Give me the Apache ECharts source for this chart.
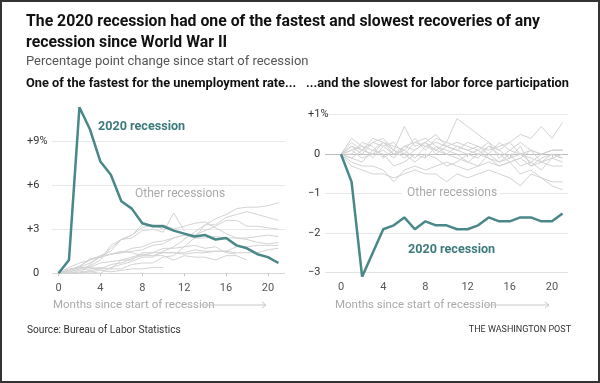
<!DOCTYPE html>
<html><head><meta charset="utf-8">
<script src="https://cdn.jsdelivr.net/npm/echarts@6/dist/echarts.min.js"></script>
<style>html,body{margin:0;padding:0;background:#fff}#c{width:600px;height:383px}</style>
</head><body><div id="c"></div>
<script>
// ---- Data (percentage point change since start of recession) ----
const months = [0,1,2,3,4,5,6,7,8,9,10,11,12,13,14,15,16,17,18,19,20,21];
const xTicks = [0,4,8,12,16,20];

// Unemployment rate, 2020 recession
const unemp2020 = [0,0.9,11.3,9.8,7.6,6.7,4.9,4.4,3.4,3.2,3.2,2.9,2.7,2.5,2.6,2.3,2.4,1.9,1.7,1.3,1.1,0.7];
// Unemployment rate, other recessions
const unemp1948 = [0,0.2,0.5,0.9,1.2,1.5,2.3,2.4,2.9,3.0,2.8,4.1,2.9];
const unemp1953 = [0,0.1,0.3,0.5,0.9,1.9,2.3,2.6,3.1,3.3,3.3,3.0,3.2,3.4,3.5,3.1,2.7,2.4,2.3,2.1,2.0,2.1];
const unemp1957 = [0,0.3,0.4,1.0,1.1,1.7,2.3,2.6,3.3,3.3,3.0];
const unemp1960 = [0,0.0,0.2,0.3,0.4,0.3,0.9,0.9,1.4,1.4,1.7,1.7,1.8,1.9,1.7,1.8,1.4,1.3];
const unemp1969 = [0,0.4,0.7,0.9,1.1,1.3,1.4,1.5,1.6,1.9,2.0,2.4,2.6,2.4,2.4,2.5,2.4,2.4,2.4,2.5,2.6,2.5];
const unemp1973 = [0,0.1,0.3,0.4,0.3,0.3,0.3,0.6,0.7,0.7,1.1,1.2,1.8,2.4,3.3,3.3,3.8,4.0,4.2,4.0,3.8,3.6];
const unemp1980 = [0,0.0,0.0,0.6,1.2,1.3,1.5,1.4,1.2,1.2,1.2,0.9,1.2,1.1,1.1,0.9,1.2,1.2,0.9];
const unemp1981 = [0,0.2,0.4,0.7,1.1,1.3,1.4,1.7,1.8,2.1,2.2,2.4,2.6,2.6,2.9,3.2,3.6,3.6,3.2,3.2,3.1,3.0];
const unemp1990 = [0,0.2,0.4,0.4,0.7,0.8,0.9,1.1,1.3,1.2,1.4,1.4,1.3,1.4,1.4,1.5,1.5,1.8,1.8,1.9,1.9,1.9];
const unemp2001 = [0,0.1,0.0,0.2,0.3,0.6,0.7,1.0,1.2,1.4,1.4,1.4,1.4,1.6,1.5,1.5,1.5,1.4,1.4,1.4,1.6,1.7];
const unemp2008 = [0,0.0,0.0,0.1,0.0,0.4,0.6,0.8,1.1,1.1,1.5,1.8,2.3,2.8,3.3,3.7,4.0,4.4,4.5,4.5,4.6,4.8];
const unempShort = [0,0.0,0.1,0.1,0.2,0.1,0.2,0.3,0.3,0.4,0.4];

// Labor force participation, 2020 recession
const lfpr2020 = [0,-0.7,-3.1,-2.5,-1.9,-1.8,-1.6,-1.9,-1.7,-1.8,-1.8,-1.9,-1.9,-1.8,-1.6,-1.7,-1.7,-1.6,-1.6,-1.7,-1.7,-1.5];
// Labor force participation, other recessions
const lfprA = [0,0.4,0.2,0.1,0.3,0.0,0.2,0.1,0.3,0.1,0.0,0.2,0.1,0.0,0.2,0.1,-0.1,0.0,0.1,0.0,0.1,0.1];
const lfprB = [0,0.2,0.0,0.3,0.4,0.1,0.7,0.2,0.3,0.5,0.2,0.3,0.2,0.1,0.3,-0.1,0.1,0.3,0.1,-0.2,0.0,-0.1];
const lfprC = [0,0.1,0.2,-0.1,0.2,0.3,0.0,0.3,0.2,0.1,0.3,0.9,0.7,0.5,0.3,0.1,0.3,0.5,0.4,0.7,0.4,0.8];
const lfprD = [0,-0.1,-0.2,0.1,0.0,-0.3,-0.2,0.0,-0.1,0.2,0.1,0.0,-0.2,-0.3,0.0,-0.2,-0.1,0.2,-0.3,-0.1,0.0,-0.1];
const lfprE = [0,-0.2,-0.3,-0.3,-0.4,-0.7,-0.4,-0.3,-0.4,-0.3,-0.2,-0.3,-0.4,-0.3,-0.2,-0.3,-0.2,-0.5,-0.4,-0.6,-0.7,-0.7];
const lfprF = [0,-0.3,-0.4,-0.5,-0.5,-0.6,-0.5,-0.4,-0.5,-0.5,-0.7,-0.5,-0.6,-0.5,-0.4,-0.5,-0.6,-0.8,-0.5,-0.6,-0.8,-0.9];
const lfprG = [0,0.3,0.1,0.3,0.2,0.0,0.1,0.4,0.1,0.4,0.3,0.2,0.1,0.2,0.0,0.3,0.1,0.0,-0.1,-0.2,-0.1,0.0];
const lfprH = [0,0.1,-0.1,0.0,0.3,0.2,0.1,-0.1,0.2,0.3,0.2,0.1,0.0,-0.1,0.2,0.0,-0.2,-0.1,0.1,0.0,0.1,0.1];
const lfprI = [0,0.0,0.3,0.2,-0.1,0.1,0.0,-0.2,0.0,-0.1,-0.3,-0.2,0.0,0.1,-0.1,-0.2,0.0,-0.3,-0.2,-0.4,-0.1,-0.2];
const lfprJ = [0,-0.1,0.1,0.4,0.3,0.1,-0.1,0.1,0.3,0.0,0.2,0.1,0.3,0.2,0.1,0.2,0.3,0.0,-0.2,0.0,0.1,0.1];
const lfprK = [0,0.2,0.1,0.0,0.1,-0.1,0.2,0.3,0.4,0.2,0.0,-0.1,-0.2,0.0,-0.1,-0.3,-0.2,-0.1,-0.3,-0.2,-0.3,-0.3];

const leftYTicks = [0,3,6,9];
const rightYTicks = [-3,-2,-1,0,1];

// ---- Chart ----
const FONT = 'Roboto, "Noto Sans", sans-serif';
const TEAL = '#4a8789';
const TEAL_TXT = '#3d7a7c';
const GRAY = '#d3d3d3';

const leftOthers = [unemp1948,unemp1953,unemp1957,unemp1960,unemp1969,unemp1973,unemp1980,unemp1981,unemp1990,unemp2001,unemp2008,unempShort];
const rightOthers = [lfprA,lfprB,lfprC,lfprD,lfprE,lfprF,lfprG,lfprH,lfprI,lfprJ,lfprK];

function pairs(arr){ return arr.map((v,i)=>[months[i], v]); }

const series = [];
leftOthers.forEach(a => series.push({type:'line', xAxisIndex:0, yAxisIndex:0, data:pairs(a), symbol:'none', silent:true, lineStyle:{color:GRAY, width:1}, z:2}));
rightOthers.forEach(a => series.push({type:'line', xAxisIndex:1, yAxisIndex:1, data:pairs(a), symbol:'none', silent:true, lineStyle:{color:GRAY, width:1}, z:2}));
series.push({type:'line', xAxisIndex:0, yAxisIndex:0, data:pairs(unemp2020), symbol:'none', clip:false, lineStyle:{color:TEAL, width:2.5}, z:5});
series.push({type:'line', xAxisIndex:1, yAxisIndex:1, data:pairs(lfpr2020), symbol:'none', clip:false, lineStyle:{color:TEAL, width:2.5}, z:5});

function xAxis(idx, min, max){
  return {type:'value', gridIndex:idx, min:min, max:max,
    axisLine:{show:false}, splitLine:{show:false},
    axisTick:{show:true, customValues:xTicks, length:3, lineStyle:{color:'#c8c8c8'}},
    axisLabel:{show:true, customValues:xTicks, color:'#555', fontSize:11, fontFamily:FONT, margin:9}};
}

const chart = echarts.init(document.getElementById('c'), null, {renderer:'canvas'});
chart.setOption({
  animation:false,
  backgroundColor:'#fff',
  grid:[
    {left:52, top:96.9, width:233, height:176.4},
    {left:325, top:114.7, width:243, height:158}
  ],
  xAxis:[xAxis(0,-0.62,21.63), xAxis(1,-1.52,21.52)],
  yAxis:[
    {type:'value', gridIndex:0, min:0, max:12, interval:3,
      axisLine:{show:false}, axisTick:{show:false},
      splitLine:{show:true, lineStyle:{color:['#d8d8d8','#e8e8e8','#e8e8e8','#e8e8e8','rgba(0,0,0,0)'], width:1}},
      axisLabel:{align:'left', margin:25, color:'#333', fontSize:11, fontFamily:FONT,
        formatter:v=> v===12 ? '' : (v===0 ? '{z|0}' : (v===9 ? '+9%' : '+'+v)),
        rich:{z:{padding:[0,0,0,6], color:'#333', fontSize:11, fontFamily:FONT}}}},
    {type:'value', gridIndex:1, min:-3, max:1, interval:1,
      axisLine:{show:false}, axisTick:{show:false},
      splitLine:{show:true, lineStyle:{color:['#e2e2e2','#e8e8e8','#e8e8e8','#bcbcbc','#e8e8e8'], width:1}},
      axisLabel:{align:'left', margin:17, color:'#333', fontSize:11, fontFamily:FONT,
        formatter:v=> v===1 ? '+1%' : (v===0 ? '{z|0}' : '\u2212'+Math.abs(v)),
        rich:{z:{padding:[0,0,0,6], color:'#333', fontSize:11, fontFamily:FONT}}}}
  ],
  series: series,
  graphic:[
    {type:'rect', z:0, shape:{x:1, y:1, width:598, height:381}, style:{fill:'none', stroke:'#333', lineWidth:2}, silent:true},
    {type:'text', z:100, style:{text:'The 2020 recession had one of the fastest and slowest recoveries of any', x:26, y:22, font:'bold 15.8px '+FONT, fill:'#111', textVerticalAlign:'middle'}},
    {type:'text', z:100, style:{text:'recession since World War II', x:26, y:43, font:'bold 15.8px '+FONT, fill:'#111', textVerticalAlign:'middle'}},
    {type:'text', z:100, style:{text:'Percentage point change since start of recession', x:26, y:62, font:'13px '+FONT, fill:'#555', textVerticalAlign:'middle'}},
    {type:'text', z:100, style:{text:'One of the fastest for the unemployment rate...', x:26, y:84, font:'bold 12.8px '+FONT, fill:'#111', textVerticalAlign:'middle'}},
    {type:'text', z:100, style:{text:'...and the slowest for labor force participation', x:306, y:84, font:'bold 12.8px '+FONT, fill:'#111', textVerticalAlign:'middle'}},
    {type:'text', z:100, style:{text:'2020 recession', x:98, y:127, font:'bold 12.6px '+FONT, fill:TEAL_TXT, textVerticalAlign:'middle'}},
    {type:'text', z:100, style:{text:'Other recessions', x:135, y:194, font:'12px '+FONT, fill:'#aaa', textVerticalAlign:'middle'}},
    {type:'rect', z:99, shape:{x:402, y:185, width:98, height:16}, style:{fill:'#fff'}},
    {type:'text', z:100, style:{text:'Other recessions', x:407, y:193, font:'12px '+FONT, fill:'#aaa', textVerticalAlign:'middle'}},
    {type:'text', z:100, style:{text:'2020 recession', x:408, y:250, font:'bold 12.6px '+FONT, fill:TEAL_TXT, textVerticalAlign:'middle'}},
    {type:'text', z:100, style:{text:'Months since start of recession', x:53, y:305, font:'11.5px '+FONT, fill:'#aaa', textVerticalAlign:'middle'}},
    {type:'line', z:100, shape:{x1:200, y1:305, x2:266, y2:305}, style:{stroke:'#c8c8c8', lineWidth:1}},
    {type:'polyline', z:100, shape:{points:[[262,302],[266,305],[262,308]]}, style:{stroke:'#c8c8c8', lineWidth:1, fill:'none'}},
    {type:'text', z:100, style:{text:'Months since start of recession', x:335, y:305, font:'11.5px '+FONT, fill:'#aaa', textVerticalAlign:'middle'}},
    {type:'line', z:100, shape:{x1:485, y1:305, x2:549, y2:305}, style:{stroke:'#c8c8c8', lineWidth:1}},
    {type:'polyline', z:100, shape:{points:[[545,302],[549,305],[545,308]]}, style:{stroke:'#c8c8c8', lineWidth:1, fill:'none'}},
    {type:'text', z:100, style:{text:'Source: Bureau of Labor Statistics', x:27, y:330, font:'10.2px '+FONT, fill:'#333', textVerticalAlign:'middle'}},
    {type:'text', z:100, style:{text:'THE WASHINGTON POST', x:571, y:330, font:'9px '+FONT, fill:'#333', textAlign:'right', textVerticalAlign:'middle'}}
  ]
});
</script></body></html>
